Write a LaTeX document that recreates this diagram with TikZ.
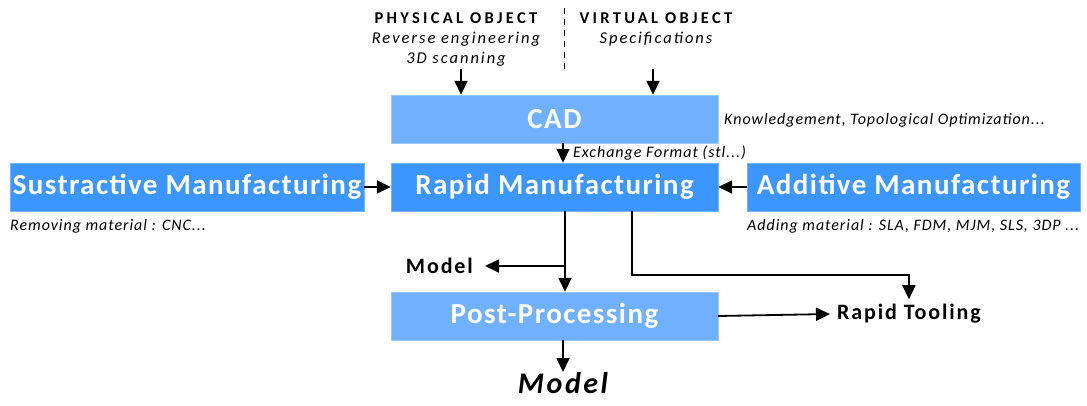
\documentclass[tikz,border=0pt]{standalone}
\usepackage{fontspec}
\setmainfont{Carlito}
\newfontfamily\boxfont{Carlito}[LetterSpace=5]
\newfontfamily\headfont{Carlito}[LetterSpace=20]
\newfontfamily\headitfont{Carlito}[LetterSpace=12]
\newfontfamily\notefont{Carlito}[LetterSpace=6]
\newfontfamily\lblfont{Carlito}[LetterSpace=8.5]
\usetikzlibrary{arrows.meta}
\definecolor{cadblue}{RGB}{111,176,255}
\definecolor{rmblue}{RGB}{59,150,255}
\tikzset{
  lightbox/.style={draw=cadblue!70!white, fill=cadblue, text=white, inner sep=0pt,
    minimum height=48pt, font=\boxfont\fontsize{29}{31}\selectfont\bfseries},
  darkbox/.style={draw=rmblue!70!white, fill=rmblue, text=white, inner sep=0pt,
    minimum height=48pt, font=\boxfont\fontsize{29}{31}\selectfont\bfseries},
  note/.style={inner sep=0pt, font=\notefont\fontsize{16}{18}\selectfont\itshape},
  head/.style={inner sep=0pt, align=center, font=\fontsize{16.5}{20}\selectfont},
  outlbl/.style={inner xsep=7pt, inner ysep=5pt, font=\lblfont\fontsize{22}{24}\selectfont\bfseries},
  arr/.style={-{Triangle[length=14pt,width=13pt]}, line width=1.8pt},
}
\begin{document}
\begin{tikzpicture}[x=1pt,y=1pt,yscale=-1]
\useasboundingbox (0,0) rectangle (1087,405);
% sources
\node[head, anchor=north] (phys) at (456,12) {{\headfont\bfseries PHYSICAL OBJECT}\\{\headitfont\itshape Reverse engineering}\\{\headitfont\itshape 3D scanning}};
\node[head, anchor=north] (virt) at (656,12) {{\headfont\bfseries VIRTUAL OBJECT}\\{\headitfont\itshape Specifications}};
\draw[dash pattern=on 6pt off 5pt, line width=1pt] (564,8) -- (564,72);
\coordinate (physin) at (461,69);
\coordinate (virtin) at (653,69);
% boxes
\node[lightbox, minimum width=327pt] (cad) at (554.5,119) {CAD};
\node[darkbox, minimum width=327pt] (rm) at (554.5,187) {Rapid Manufacturing};
\node[darkbox, minimum width=354pt] (sus) at (187,187) {Sustractive Manufacturing};
\node[darkbox, minimum width=333pt] (add) at (913.5,187) {Additive Manufacturing};
\node[lightbox, minimum width=327pt] (pp) at (554.5,316) {Post-Processing};
% notes
\node[note, anchor=west] (know) at (724,120) {Knowledgement, Topological Optimization...};
\node[note, anchor=west] (exch) at (573,153) {Exchange Format (stl...)};
\node[note, anchor=west] (remove) at (10,226) {Removing material : CNC...};
\node[note, anchor=west] (adding) at (747,226) {Adding material : SLA, FDM, MJM, SLS, 3DP ...};
% outputs
\node[outlbl, inner xsep=12pt, anchor=east] (model) at (485,266) {Model};
\node[outlbl, anchor=west] (tool) at (830,314) {Rapid Tooling};
\node[outlbl, inner ysep=0pt, anchor=north, font=\lblfont\fontsize{30}{32}\selectfont\bfseries\itshape] (final) at (563,372) {Model};
\coordinate (split) at (565,266);
\coordinate (turn) at (632,275);
% connectors
\draw[arr] (physin) -- (physin |- cad.north);
\draw[arr] (virtin) -- (virtin |- cad.north);
\draw[arr] ([xshift=8.5pt]cad.south) -- ([xshift=8.5pt]rm.north);
\draw[arr] (sus.east) -- (rm.west);
\draw[arr] (add.west) -- (rm.east);
\draw[arr] (split |- rm.south) -- (split |- pp.north);
\draw[arr] (split) -- (model.east);
\draw[arr] (turn |- rm.south) -- (turn) -| (tool.north);
\draw[arr] (pp.east) -- (tool.west);
\draw[arr] ([xshift=8.5pt]pp.south) -- (final.north);
\end{tikzpicture}
\end{document}
